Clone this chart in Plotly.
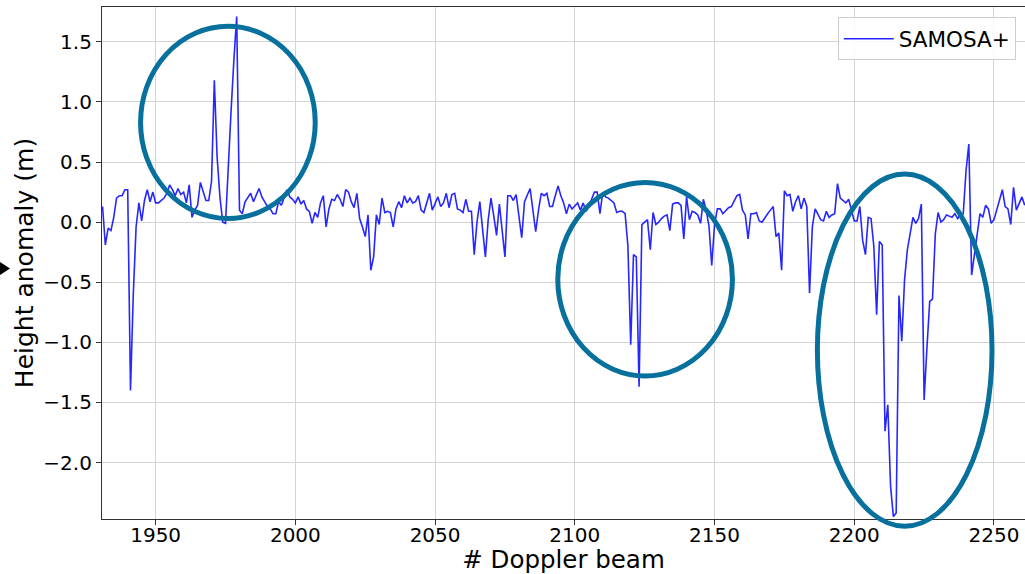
import plotly.graph_objects as go

# ---------------- data ----------------
beam_start = 1931
height_anomaly = [
    0.13, -0.19, -0.05, -0.07, 0.04, 0.20, 0.22, 0.22, 0.27, 0.27,          # 1931-1940
    -1.40, -0.60, -0.04, 0.16, 0.01, 0.18, 0.27, 0.17, 0.25, 0.16,          # 1941-1950
    0.16, 0.18, 0.20, 0.24, 0.31, 0.27, 0.22, 0.28, 0.23, 0.25,             # 1951-1960
    0.16, 0.31, 0.04, 0.10, 0.14, 0.33, 0.25, 0.18, 0.18, 0.34,             # 1961-1970
    1.18, 0.54, 0.21, 0.00, -0.01, 0.50, 0.93, 1.35, 1.71, 0.10,            # 1971-1980
    0.07, 0.17, 0.21, 0.24, 0.17, 0.22, 0.28, 0.21, 0.17, 0.13,             # 1981-1990
    0.11, 0.07, 0.07, 0.17, 0.14, 0.21, 0.27, 0.21, 0.19, 0.16,             # 1991-2000
    0.21, 0.15, 0.18, 0.11, 0.09, -0.01, 0.08, 0.04, 0.16, 0.22,            # 2001-2010
    -0.04, 0.11, 0.19, 0.18, 0.23, 0.19, 0.13, 0.27, 0.25, 0.17,            # 2011-2020
    0.12, 0.24, 0.03, -0.04, -0.12, 0.06, -0.40, -0.29, 0.06, -0.02,        # 2021-2030
    0.20, 0.08, 0.09, 0.08, -0.04, 0.11, 0.17, 0.12, 0.22, 0.16,            # 2031-2040
    0.20, 0.16, 0.17, 0.22, 0.10, 0.08, 0.17, 0.24, 0.10, 0.16,             # 2041-2050
    0.21, 0.13, 0.16, 0.24, 0.12, 0.23, 0.24, 0.11, 0.10, 0.08,             # 2051-2060
    0.19, 0.09, 0.09, -0.27, 0.00, 0.17, -0.08, -0.29, 0.02, 0.20,          # 2061-2070
    0.05, -0.11, 0.15, -0.05, -0.29, 0.22, 0.22, 0.18, 0.23, 0.05,          # 2071-2080
    -0.13, 0.17, 0.22, 0.28, 0.10, -0.08, 0.10, 0.24, 0.22, 0.24,           # 2081-2090
    0.13, 0.13, 0.22, 0.30, 0.22, 0.16, 0.07, 0.15, 0.11, 0.14,             # 2091-2100
    0.16, 0.10, 0.16, 0.09, 0.13, 0.19, 0.25, 0.25, 0.07, 0.25,             # 2101-2110
    0.21, 0.20, 0.18, 0.16, 0.08, 0.09, 0.09, 0.07, -0.20, -1.02,           # 2111-2120
    -0.27, -0.29, -1.37, -0.02, 0.00, 0.02, -0.23, 0.08, -0.02, 0.00,       # 2121-2130
    0.03, 0.05, 0.06, -0.07, 0.15, 0.16, 0.16, 0.14, -0.14, 0.21,           # 2131-2140
    0.02, 0.09, 0.08, 0.06, -0.01, 0.19, 0.10, -0.03, -0.36, -0.02,         # 2141-2150
    0.11, 0.11, 0.07, 0.10, 0.12, 0.13, 0.17, 0.22, 0.23, 0.10,             # 2151-2160
    0.06, -0.14, 0.07, 0.07, 0.08, 0.01, 0.00, 0.04, 0.07, 0.10,            # 2161-2170
    0.13, -0.12, -0.09, -0.40, 0.26, 0.22, 0.23, 0.09, 0.17, 0.22,          # 2171-2180
    0.11, 0.20, 0.13, -0.59, -0.04, 0.11, 0.06, 0.02, 0.01, 0.09,           # 2181-2190
    0.04, 0.06, 0.07, 0.32, 0.20, 0.18, 0.16, 0.19, 0.09, 0.01,             # 2191-2200
    0.01, 0.13, -0.15, -0.27, 0.04, 0.03, -0.20, -0.77, -0.16, -0.19,       # 2201-2210
    -1.74, -1.52, -2.20, -2.45, -2.42, -0.61, -0.99, -0.48, -0.23, -0.08,   # 2211-2220
    0.04, -0.01, 0.03, 0.15, -1.48, -1.05, -0.66, -0.64, -0.10, 0.08,       # 2221-2230
    0.00, 0.02, 0.06, 0.05, 0.04, 0.07, 0.03, 0.06, 0.07, 0.43,             # 2231-2240
    0.65, -0.44, -0.26, -0.09, 0.07, 0.04, 0.14, 0.11, -0.01, 0.02,         # 2241-2250
    0.10, 0.18, 0.27, 0.13, 0.11, -0.02, 0.29, 0.10, 0.16, 0.21,            # 2251-2260
    0.14,                                                                   # 2261
]
beams = list(range(beam_start, beam_start + len(height_anomaly)))

series_name = "SAMOSA+"
x_title = "# Doppler beam"
y_title = "Height anomaly (m)"
x_range = [1930.8, 2261.1]
y_range = [-2.47, 1.79]
y_ticks = [-2.0, -1.5, -1.0, -0.5, 0.0, 0.5, 1.0, 1.5]

# highlighted regions (data coordinates): x0, x1, y0, y1
highlight_regions = [
    (1944.6, 2007.1, 0.03, 1.63),
    (2093.9, 2156.4, -1.28, 0.33),
    (2186.8, 2249.3, -2.53, 0.40),
]

# ---------------- figure ----------------
W, H = 1025, 574
ML, MR, MT, MB = 102, 0, 7, 55

fig = go.Figure()
fig.add_trace(go.Scatter(
    x=beams, y=height_anomaly, mode="lines", name=series_name,
    line=dict(color="rgba(0,0,255,0.85)", width=1.6),
))


def to_paper_x(v):
    return (v - x_range[0]) / (x_range[1] - x_range[0])


def to_paper_y(v):
    return (v - y_range[0]) / (y_range[1] - y_range[0])


shapes = []
for (x0, x1, y0, y1) in highlight_regions:
    shapes.append(dict(
        type="circle", xref="paper", yref="paper",
        x0=to_paper_x(x0), x1=to_paper_x(x1),
        y0=to_paper_y(y0), y1=to_paper_y(y1),
        line=dict(color="#07709c", width=5), layer="above",
    ))

# small black pointer on the left edge
pw = W - ML - MR
ph = H - MT - MB
def px_to_paper(px, py):
    return (px - ML) / pw, (H - MB - py) / ph

a = px_to_paper(0, 262)
b = px_to_paper(10, 268.5)
c = px_to_paper(0, 275)
shapes.append(dict(
    type="path", xref="paper", yref="paper",
    path=f"M {a[0]} {a[1]} L {b[0]} {b[1]} L {c[0]} {c[1]} Z",
    fillcolor="black", line=dict(color="black", width=0),
))

font_family = "DejaVu Sans"
fig.update_layout(
    width=W, height=H,
    margin=dict(l=ML, r=MR, t=MT, b=MB),
    paper_bgcolor="white", plot_bgcolor="white",
    font=dict(family=font_family, color="black"),
    shapes=shapes,
    showlegend=True,
    legend=dict(
        x=0.99, y=0.98, xanchor="right", yanchor="top",
        bgcolor="rgba(255,255,255,0.85)", bordercolor="#cccccc", borderwidth=1,
        font=dict(size=21.5, family=font_family),
        itemwidth=50,
    ),
    xaxis=dict(
        range=x_range, tick0=1950, dtick=50,
        showgrid=True, gridcolor="#d4d4d4", gridwidth=1,
        showline=True, linecolor="#333333", linewidth=1.2, mirror=True,
        ticks="outside", ticklen=5, tickcolor="#333333",
        tickfont=dict(size=20), zeroline=False, ticklabelstandoff=-7,
        title=dict(text=x_title, font=dict(size=24.5), standoff=5),
    ),
    yaxis=dict(
        range=y_range,
        tickvals=y_ticks, tickformat=".1f",
        showgrid=True, gridcolor="#d4d4d4", gridwidth=1,
        showline=True, linecolor="#333333", linewidth=1.2,
        ticks="outside", ticklen=5, tickcolor="#333333",
        tickfont=dict(size=20), zeroline=False,
        title=dict(text=y_title, font=dict(size=25), standoff=2),
    ),
)

fig.write_html("out.html")
